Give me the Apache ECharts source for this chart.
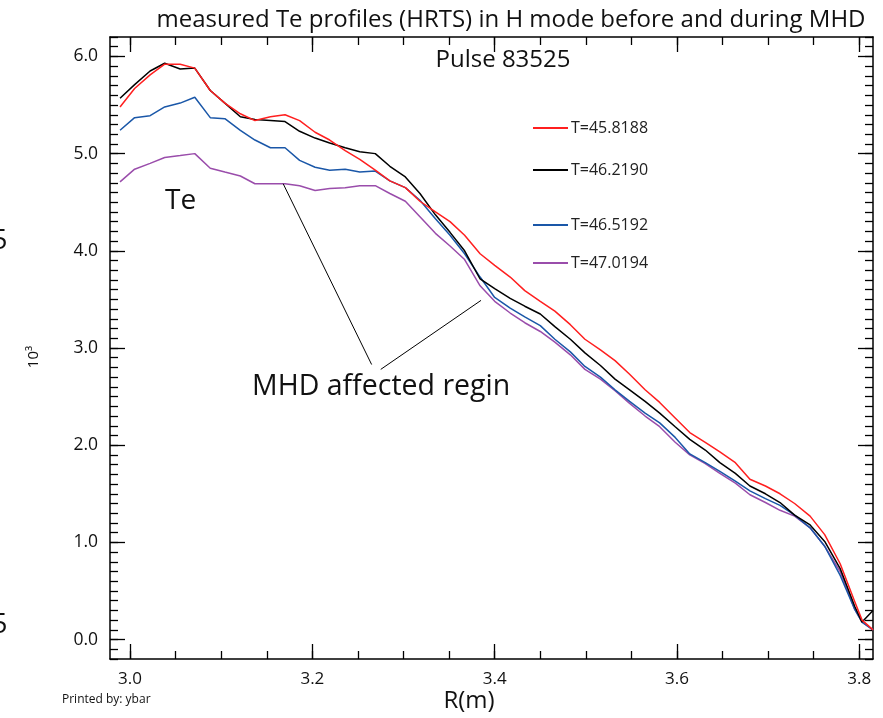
<!DOCTYPE html>
<html>
<head>
<meta charset="utf-8">
<script src="https://cdn.jsdelivr.net/npm/echarts@6/dist/echarts.min.js"></script>
<style>
html,body{margin:0;padding:0;background:#fff;}
#c{width:883px;height:718px;}
</style>
</head>
<body>
<div id="c"></div>
<script>
// ---- data ----
const R = [2.989,3.005,3.022,3.038,3.055,3.071,3.088,3.104,3.121,3.137,3.154,3.170,3.186,3.203,3.219,3.236,3.252,3.269,3.285,3.302,3.318,3.335,3.351,3.367,3.384,3.400,3.417,3.433,3.450,3.466,3.483,3.499,3.516,3.532,3.548,3.565,3.581,3.598,3.614,3.631,3.647,3.664,3.680,3.697,3.713,3.729,3.746,3.762,3.779,3.795,3.803,3.815];
const teT1 = [5.48,5.67,5.81,5.92,5.92,5.88,5.65,5.52,5.41,5.34,5.38,5.40,5.34,5.22,5.14,5.03,4.94,4.83,4.72,4.65,4.51,4.40,4.30,4.16,3.97,3.85,3.73,3.59,3.48,3.38,3.24,3.09,2.98,2.87,2.73,2.57,2.44,2.28,2.13,2.03,1.93,1.82,1.65,1.58,1.50,1.40,1.27,1.08,0.78,0.39,0.20,0.10];
const teT2 = [5.57,5.71,5.85,5.93,5.87,5.88,5.65,5.52,5.38,5.35,5.34,5.33,5.23,5.16,5.11,5.06,5.02,5.00,4.87,4.76,4.59,4.37,4.19,4.00,3.71,3.61,3.51,3.43,3.35,3.22,3.09,2.95,2.82,2.68,2.57,2.45,2.33,2.19,2.06,1.95,1.82,1.71,1.58,1.50,1.41,1.28,1.18,1.01,0.73,0.34,0.18,0.30];
const teT3 = [5.24,5.37,5.39,5.48,5.52,5.58,5.37,5.36,5.24,5.14,5.06,5.06,4.93,4.86,4.83,4.84,4.81,4.82,4.72,4.65,4.52,4.33,4.16,3.97,3.73,3.52,3.41,3.32,3.23,3.09,2.96,2.81,2.70,2.57,2.45,2.33,2.23,2.08,1.91,1.82,1.73,1.63,1.53,1.45,1.38,1.28,1.15,0.96,0.66,0.31,0.18,0.10];
const teT4 = [4.71,4.84,4.90,4.96,4.98,5.00,4.85,4.81,4.77,4.69,4.69,4.69,4.67,4.62,4.64,4.65,4.67,4.67,4.59,4.51,4.35,4.18,4.05,3.91,3.64,3.48,3.36,3.26,3.17,3.06,2.93,2.78,2.68,2.56,2.43,2.30,2.19,2.03,1.90,1.81,1.71,1.61,1.49,1.41,1.33,1.27,1.15,0.96,0.70,0.31,0.18,0.10];
const seriesNames = ['T=45.8188','T=46.2190','T=46.5192','T=47.0194'];
const xMajorTicks = [3.0,3.2,3.4,3.6,3.8];
const xMinorTicks = [3.0,3.05,3.1,3.15,3.2,3.25,3.3,3.35,3.4,3.45,3.5,3.55,3.6,3.65,3.7,3.75,3.8];
const yMajorTicks = [0,1,2,3,4,5,6];
// annotation pointer lines (data coordinates)
const pointerA = [[3.168,4.69],[3.265,2.83]];
const pointerB = [[3.275,2.78],[3.385,3.49]];

// ---- chart ----
const colors = ['#ff1f1f','#000000','#1a57a8','#9a4dab'];
const font = '"Open Sans", "DejaVu Sans", sans-serif';
const chart = echarts.init(document.getElementById('c'), null, {renderer:'canvas'});

function zip(a){ return R.map((r,i)=>[r,a[i]]); }
const allTe = [teT1, teT2, teT3, teT4];

const X_MIN = 2.978, X_MAX = 3.815, Y_MIN = -0.2, Y_MAX = 6.2;
const axisLineStyle = {color:'#000', width:1.5};

function xAx(pos, major, showLabel){
  return {
    type:'value', position:pos, min:X_MIN, max:X_MAX,
    axisLine:{show:major, lineStyle:axisLineStyle, onZero:false},
    axisTick:{show:true, inside:true, length: major?15:8, customValues: major?xMajorTicks:xMinorTicks, lineStyle:{color:'#000', width:1.3}},
    axisLabel:{show:showLabel, customValues:xMajorTicks, formatter:v=>v.toFixed(1), margin:12, fontSize:17, color:'#111', fontFamily:font},
    splitLine:{show:false}
  };
}
function yAx(pos, major, showLabel){
  const o = {
    type:'value', position:pos, min:Y_MIN, max:Y_MAX,
    axisLine:{show:major, lineStyle:axisLineStyle, onZero:false},
    axisTick:{show:true, inside:true, length: major?15:8, lineStyle:{color:'#000', width:1.3}},
    axisLabel:{show:showLabel, customValues:yMajorTicks, formatter:v=>v.toFixed(1), margin:12, fontSize:17.5, color:'#111', fontFamily:font},
    splitLine:{show:false}
  };
  if (major) o.axisTick.customValues = yMajorTicks; else o.interval = 0.1;
  return o;
}

const series = allTe.map((a,i)=>({
  name: seriesNames[i], type:'line', data: zip(a), symbol:'none',
  xAxisIndex:0, yAxisIndex:0,
  lineStyle:{color:colors[i], width:1.5}, itemStyle:{color:colors[i]},
  z: 5 - i,
  animation:false
}));
series[0].markLine = {
  silent:true, symbol:['none','none'], animation:false,
  label:{show:false},
  lineStyle:{color:'#000', width:1, type:'solid'},
  data:[
    [{coord:pointerA[0]},{coord:pointerA[1]}],
    [{coord:pointerB[0]},{coord:pointerB[1]}]
  ]
};

const legendTops = [127,169,224,262];
const legends = seriesNames.map((n,i)=>({
  data:[n], left:533, top:legendTops[i]-7, padding:0,
  itemWidth:35, itemHeight:14, itemGap:0, icon:'path://M0,6 L35,6 L35,8 L0,8 Z',
  textStyle:{fontSize:16, color:'#222', fontFamily:font, padding:[0,0,0,-2]},
  selectedMode:false
}));

chart.setOption({
  backgroundColor:'#fff',
  animation:false,
  title:[
    {text:'measured Te profiles (HRTS) in H mode before and during MHD', left:506, top:3, textAlign:'center',
     textStyle:{fontSize:24, fontWeight:'normal', color:'#111', fontFamily:font}},
    {text:'Pulse 83525', left:498, top:43, textAlign:'center',
     textStyle:{fontSize:24, fontWeight:'normal', color:'#111', fontFamily:font}}
  ],
  legend: legends,
  grid:{left:110, right:10, top:37, bottom:59, containLabel:false},
  xAxis:[xAx('bottom',true,true), xAx('bottom',false,false), xAx('top',true,false), xAx('top',false,false)],
  yAxis:[yAx('left',true,true), yAx('left',false,false), yAx('right',true,false), yAx('right',false,false)],
  series: series,
  graphic:[
    {type:'text', x:469, y:689, style:{text:'R(m)', font:'24px '+font, fill:'#111', textAlign:'center'}},
    {type:'text', x:34, y:357, rotation:Math.PI/2, style:{text:'10³', font:'15px '+font, fill:'#111', textAlign:'center', textVerticalAlign:'middle'}},
    {type:'text', left:62, top:694, style:{text:'Printed by: ybar', font:'12px '+font, fill:'#111'}},
    {type:'text', left:165, top:187, style:{text:'Te', font:'28px '+font, fill:'#111'}},
    {type:'text', left:252, top:372, style:{text:'MHD affected regin', font:'28.5px '+font, fill:'#111'}},
    {type:'text', left:-8, top:228, style:{text:'5', font:'27px '+font, fill:'#111'}},
    {type:'text', left:-8, top:612, style:{text:'5', font:'27px '+font, fill:'#111'}}
  ]
});
</script>
</body>
</html>
